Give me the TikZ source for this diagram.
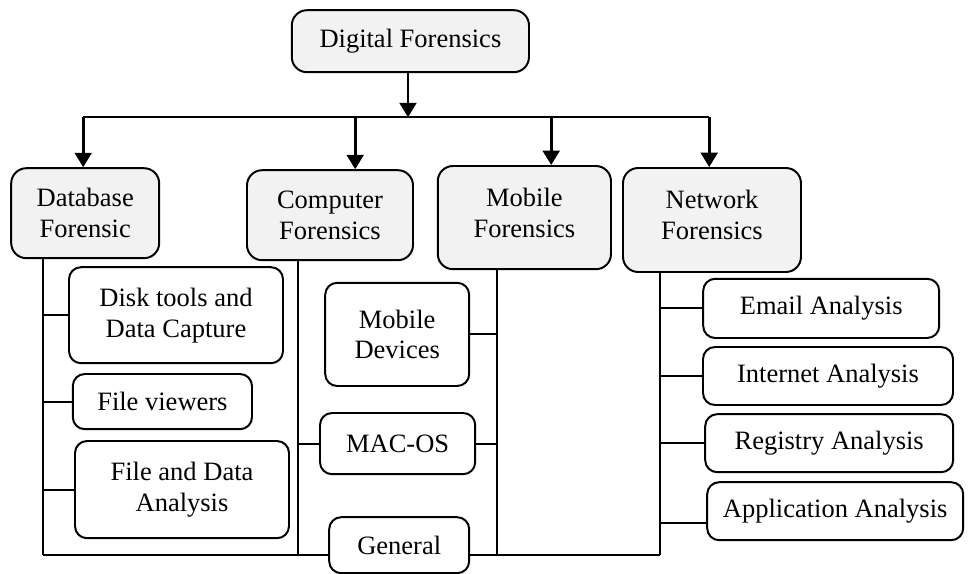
\documentclass[tikz,border=0pt]{standalone}
\usepackage{fontspec}
\setmainfont{Liberation Serif}
\usetikzlibrary{arrows.meta}

\tikzset{
  box/.style={draw, line width=1.4pt, align=center, inner sep=0pt,
    font=\fontsize{18.85}{22}\selectfont},
  topbox/.style={box, rounded corners=0.38cm, fill=gray!10},
  subbox/.style={box, rounded corners=0.3cm, fill=white},
  wire/.style={line width=1.4pt},
  arr/.style={line width=2pt, -{Triangle[width=0.42cm,length=0.36cm]}},
}

\begin{document}
\begin{tikzpicture}
    \useasboundingbox (0,0) rectangle (24.5,-14.35);

    % root and the four branches
    \node[topbox, minimum width=5.93cm, minimum height=1.55cm] (digital) at (10.26,-1.03) {Digital Forensics};
    \node[topbox, minimum width=3.7cm, minimum height=2.25cm] (database) at (2.13,-5.33) {Database\\Forensic};
    \node[topbox, minimum width=4.15cm, minimum height=2.25cm] (computer) at (8.25,-5.38) {Computer\\Forensics};
    \node[topbox, minimum width=4.33cm, minimum height=2.58cm, text depth=0.25cm] (mobile) at (13.11,-5.44) {Mobile\\Forensics};
    \node[topbox, minimum width=4.45cm, minimum height=2.6cm, text depth=0.25cm] (network) at (17.8,-5.5) {Network\\Forensics};

    % leaves
    \node[subbox, minimum width=5.35cm, minimum height=2.4cm] (disk) at (4.4,-7.88) {Disk tools and\\Data Capture};
    \node[subbox, minimum width=4.48cm, minimum height=1.38cm] (viewers) at (4.06,-10.04) {File viewers};
    \node[subbox, minimum width=5.35cm, minimum height=2.43cm] (filedata) at (4.55,-12.24) {File and Data\\Analysis};
    \node[subbox, minimum width=3.6cm, minimum height=2.58cm] (mobdev) at (9.93,-8.36) {Mobile\\Devices};
    \node[subbox, minimum width=3.88cm, minimum height=1.53cm] (macos) at (9.94,-11.09) {MAC-OS};
    \node[subbox, minimum width=3.5cm, minimum height=1.4cm] (general) at (9.98,-13.63) {General};
    \node[subbox, minimum width=5.9cm, minimum height=1.48cm] (email) at (20.53,-7.71) {Email Analysis};
    \node[subbox, minimum width=6.25cm, minimum height=1.45cm] (internet) at (20.7,-9.4) {Internet Analysis};
    \node[subbox, minimum width=6.2cm, minimum height=1.45cm] (registry) at (20.73,-11.08) {Registry Analysis};
    \node[subbox, minimum width=6.4cm, minimum height=1.45cm] (application) at (20.88,-12.78) {Application Analysis};

    % bus under the root
    \coordinate (bus) at (10.2,-2.93);
    \draw[arr] (digital.south -| bus) -- (bus);
    \foreach \x/\n in {2.08/database, 8.88/computer, 13.78/mobile, 17.73/network} {
        \coordinate (b\n) at (\x,-2.93);
        \draw[arr] (b\n) -- (b\n |- \n.north);
      }
    \draw[wire] (bdatabase) -- (bnetwork);

    % trunks down from each branch
    \foreach \x/\n in {1.08/database, 7.45/computer, 12.43/mobile, 16.5/network} {
        \coordinate (t\n) at (\x,-13.88);
        \draw[wire] (t\n |- \n.south) -- (t\n);
      }
    \draw[wire] (tdatabase) -- (general.west |- tdatabase);
    \draw[wire] (general.east |- tnetwork) -- (tnetwork);

    % leaves on the trunks
    \foreach \n in {disk, viewers, filedata}
      \draw[wire] (tdatabase |- \n.west) -- (\n.west);
    \foreach \n in {mobdev, macos}
      \draw[wire] (\n.east) -- (tmobile |- \n.east);
    \draw[wire] (tcomputer |- macos.west) -- (macos.west);
    \foreach \n in {email, internet, registry}
      \draw[wire] (tnetwork |- \n.west) -- (\n.west);
    \coordinate (appin) at ([yshift=-0.3cm]application.west);
    \draw[wire] (tnetwork |- appin) -- (appin);
  \end{tikzpicture}
\end{document}
